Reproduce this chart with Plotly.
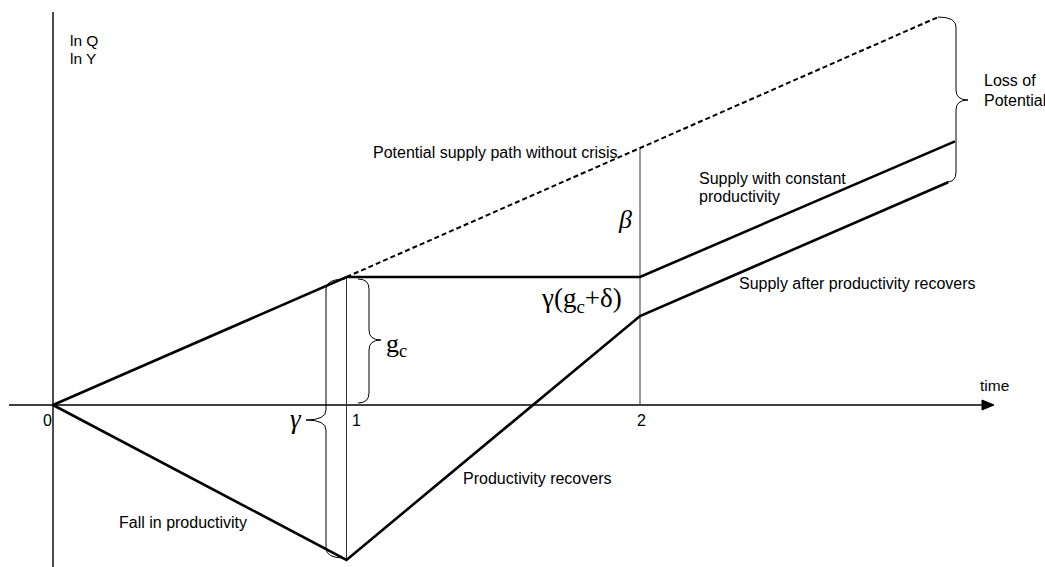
import plotly.graph_objects as go

# ---------------- data (model units: time periods, log output with g_c = 1) -------------
upper_time = [0, 1, 2, 3.073]          # supply with constant productivity
upper_value = [0, 1.0, 1.0, 2.06]
lower_time = [0, 1, 2, 3.05]           # supply after productivity recovers
lower_value = [0, -1.21, 0.695, 1.74]
potential_time = [1, 3.015]            # potential path without crisis
potential_value = [1.0, 3.03]
guide_times = [1, 2]                   # vertical guide lines
guide_low = [-1.21, 0.0]
guide_high = [1.0, 2.0]
tick_times = [0, 1, 2]
tick_labels = ["0", "1", "2"]

# ---------------- geometry of the canvas ----------------
W, H = 1045, 567
X0PX, XUNIT = 53, 293.5
Y0PX, YUNIT = 405, 128


def dx(px):
    return (px - X0PX) / XUNIT


def dy(py):
    return (Y0PX - py) / YUNIT


FONT = "Arial, Liberation Sans, sans-serif"
SERIF = "Times New Roman, Liberation Serif, serif"

fig = go.Figure()

# axes
fig.add_trace(go.Scatter(x=[dx(9), dx(985)], y=[0, 0], mode="lines",
                         line=dict(color="black", width=1.6), hoverinfo="skip"))
fig.add_trace(go.Scatter(x=[0, 0], y=[dy(12), dy(567)], mode="lines",
                         line=dict(color="black", width=1.4), hoverinfo="skip"))

# guides
for t, lo, hi in zip(guide_times, guide_low, guide_high):
    fig.add_trace(go.Scatter(x=[t, t], y=[lo, hi], mode="lines",
                             line=dict(color="#333333", width=1), hoverinfo="skip"))

# paths
fig.add_trace(go.Scatter(x=potential_time, y=potential_value, mode="lines",
                         line=dict(color="black", width=2, dash="5px,3px"), hoverinfo="skip"))
fig.add_trace(go.Scatter(x=upper_time, y=upper_value, mode="lines",
                         line=dict(color="black", width=2.6), hoverinfo="skip"))
fig.add_trace(go.Scatter(x=lower_time, y=lower_value, mode="lines",
                         line=dict(color="black", width=2.6), hoverinfo="skip"))

# arrow head on time axis
fig.add_shape(type="path",
              path=f"M {dx(982)},{dy(400)} L {dx(994)},{dy(405)} L {dx(982)},{dy(410)} Z",
              fillcolor="black", line=dict(color="black", width=1))


def brace(x_end_top, x_end_bot, x_spine, x_tip, y_top, y_bot, y_mid, r=10):
    p = (f"M {dx(x_end_top)},{dy(y_top)} "
         f"Q {dx(x_spine)},{dy(y_top)} {dx(x_spine)},{dy(y_top + r)} "
         f"L {dx(x_spine)},{dy(y_mid - r)} "
         f"Q {dx(x_spine)},{dy(y_mid)} {dx(x_tip)},{dy(y_mid)} "
         f"Q {dx(x_spine)},{dy(y_mid)} {dx(x_spine)},{dy(y_mid + r)} "
         f"L {dx(x_spine)},{dy(y_bot - r)} "
         f"Q {dx(x_spine)},{dy(y_bot)} {dx(x_end_bot)},{dy(y_bot)}")
    fig.add_shape(type="path", path=p, line=dict(color="black", width=1))


brace(358, 358, 369, 381, 279, 403, 340)      # g_c
brace(345, 344, 326, 306, 279, 558, 420)      # gamma
brace(938, 947, 956, 968, 17, 182, 100)       # loss of potential


def label(px, py, text, size=16, anchor="left", font=FONT, italic=False):
    fig.add_annotation(x=dx(px), y=dy(py), text=text, showarrow=False,
                       xanchor=anchor, yanchor="middle",
                       font=dict(family=font, size=size, color="black",
                                 style="italic" if italic else "normal"))


# tick labels
tick_px = [(47, 420), (356, 420), (641, 420)]
for (px, py), lab, t in zip(tick_px, tick_labels, tick_times):
    label(px, py, lab, size=16, anchor="center")

label(68, 40, "ln Q", size=15.5)
label(68, 58, "ln Y", size=15.5)
label(994, 385, "time", size=15.5, anchor="center")
label(371, 152, "Potential supply path without crisis")
label(697, 178, "Supply with constant")
label(697, 196, "productivity")
label(737, 283, "Supply after productivity recovers")
label(461, 478, "Productivity recovers")
label(117, 522, "Fall in productivity")
label(982, 80, "Loss of")
label(982, 100, "Potential")
label(634, 219, "β", size=26, anchor="right", font=SERIF, italic=True)
label(624, 300, "γ(g<sub>c</sub>+δ)", size=27, anchor="right", font=SERIF)
label(384, 345, "g<sub>c</sub>", size=26, font=SERIF)
label(304, 419, "γ", size=27, anchor="right", font=SERIF, italic=True)

fig.update_layout(
    width=W, height=H, margin=dict(l=0, r=0, t=0, b=0),
    paper_bgcolor="white", plot_bgcolor="white", showlegend=False,
    xaxis=dict(range=[dx(0), dx(W)], visible=False, fixedrange=True),
    yaxis=dict(range=[dy(H), dy(0)], visible=False, fixedrange=True),
)

fig.write_html(
    "out.html",
    config={"displayModeBar": False},
    post_script="document.body.style.margin='0px';document.body.style.overflow='hidden';",
)
